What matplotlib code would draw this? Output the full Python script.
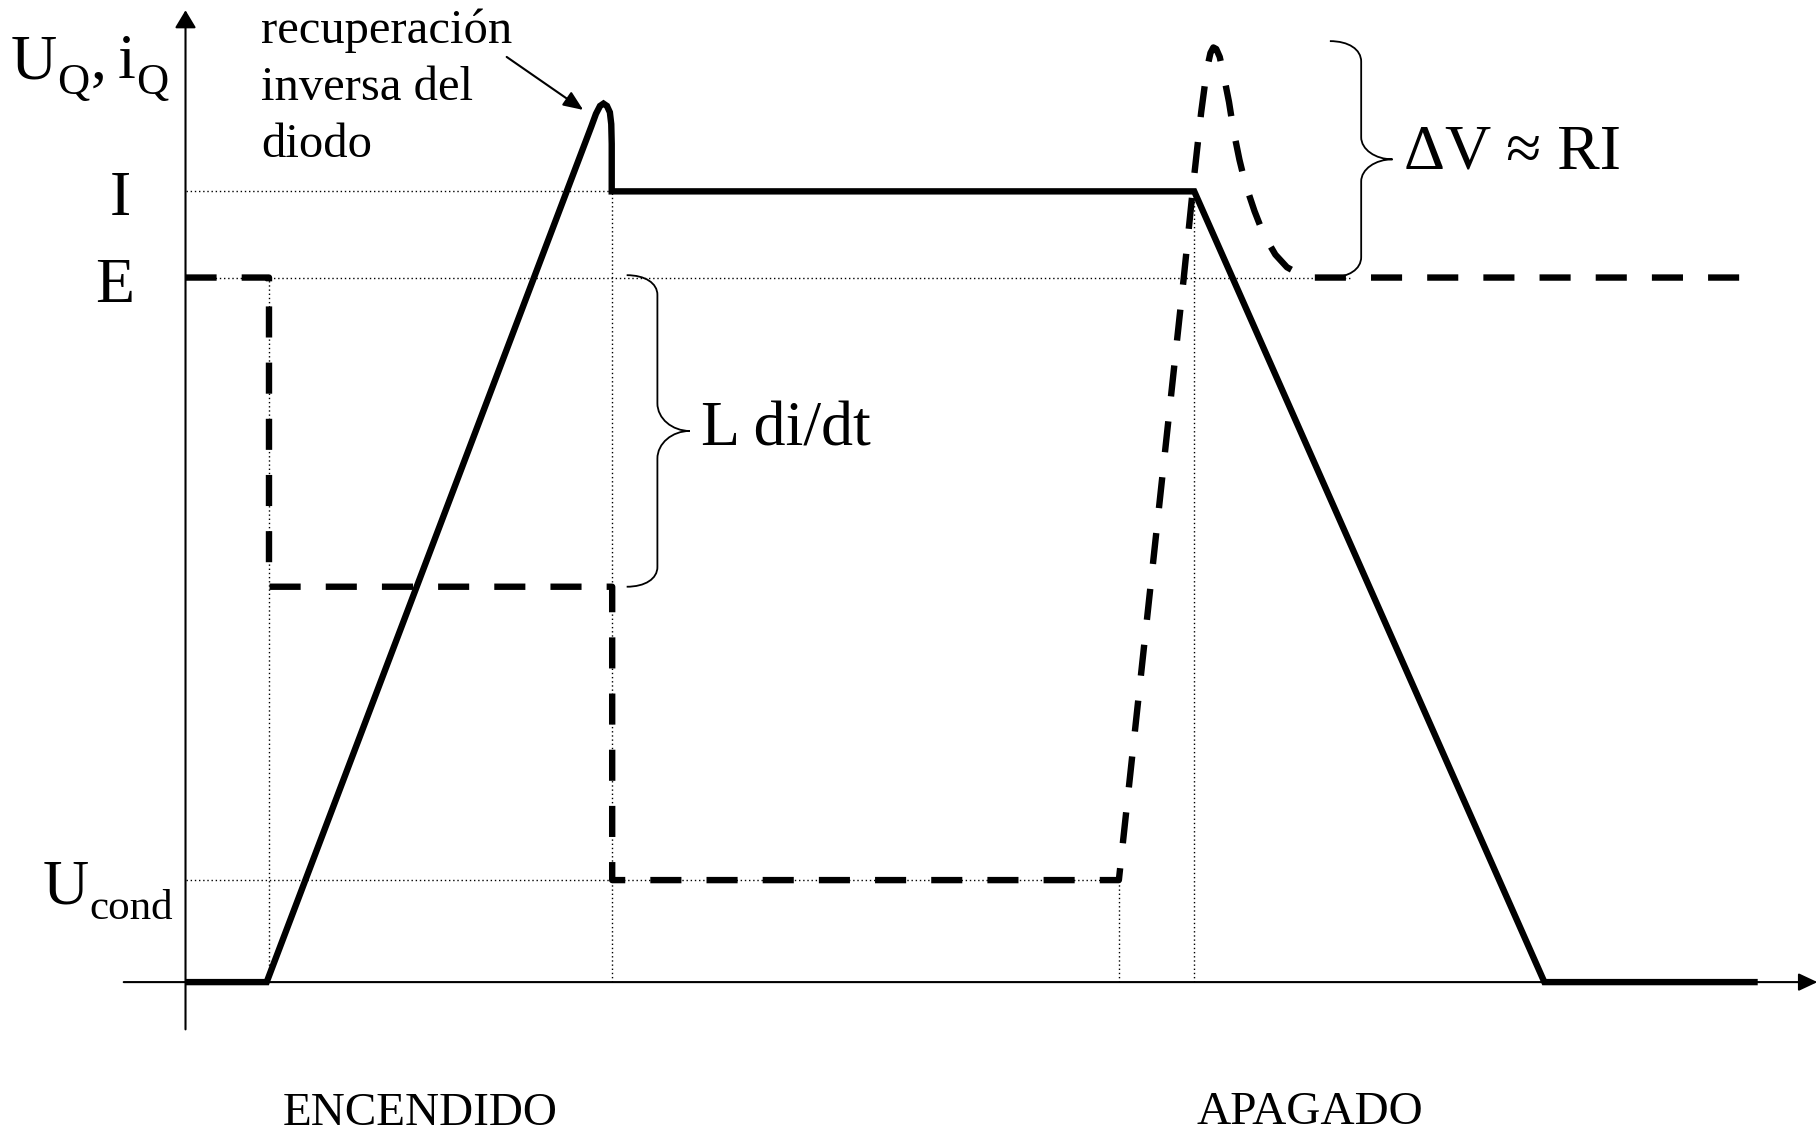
import matplotlib
matplotlib.use('Agg')
import numpy as np
import matplotlib.pyplot as plt
from matplotlib.path import Path
from matplotlib.patches import PathPatch

plt.rcParams['font.family'] = ['Liberation Serif', 'DejaVu Serif']

# ---------------- data ----------------
I_level = 10.0
E_level = 8.91
Ucond_level = 1.29
Ldidt_level = 5.0

current_t = [0.0, 0.70, 3.50, 3.54, 3.575, 3.605, 3.635, 3.66, 3.672, 3.676, 3.676, 8.70, 11.72, 13.56]
current_v = [0.0, 0.0, 10.82, 10.98, 11.08, 11.11, 11.08, 11.0, 10.85, 10.6, 10.0, 10.0, 0.0, 0.0]

voltage_t = [0.0, 0.72, 0.72, 3.68, 3.68, 8.05, 8.61, 8.70, 8.76, 8.81, 8.84, 8.865,
             8.89, 8.92, 8.95, 9.00, 9.04, 9.09, 9.14, 9.22, 9.30, 9.40, 9.50, 9.60, 9.70, 13.40]
voltage_v = [8.91, 8.91, 5.0, 5.0, 1.29, 1.29, 8.91, 10.2, 11.0, 11.55, 11.75, 11.82,
             11.8, 11.7, 11.5, 11.13, 10.76, 10.4, 10.1, 9.75, 9.45, 9.2, 9.04, 8.96, 8.91, 8.91]

# dotted guide lines: (level, start, end)
hguides = [(I_level, 0.0, 8.70), (E_level, 0.0, 10.05), (Ucond_level, 0.0, 8.05)]
vguides = [(0.72, 0.0, E_level), (3.676, 0.0, I_level), (8.05, 0.0, Ucond_level), (8.70, 0.0, I_level)]

level_labels = ['I', 'E']
level_label_t = [-0.56, -0.61]
level_label_v = [9.70, 8.60]

phase_labels = ['ENCENDIDO', 'APAGADO']
phase_label_t = [2.02, 9.70]
phase_label_v = [-1.81, -1.795]

diode_lines = ['recuperación', 'inversa del', 'diodo']
diode_line_v = [11.87, 11.15, 10.44]

# ---------------- figure ----------------
DPI = 100
fig = plt.figure(figsize=(18.18, 11.34), dpi=DPI)
ax = fig.add_axes([0, 0, 1, 1])
ax.set_xlim(-1.60, 14.08)
ax.set_ylim(-1.921, 12.42)
ax.axis('off')

# axes with arrows
ax.annotate('', xy=(0, 12.29), xytext=(0, -0.598),
            arrowprops=dict(arrowstyle='-|>,head_length=0.6,head_width=0.36', lw=1.5,
                            color='black', shrinkA=0, shrinkB=0, mutation_scale=18))
ax.annotate('', xy=(14.075, 0), xytext=(-0.533, 0),
            arrowprops=dict(arrowstyle='-|>,head_length=0.64,head_width=0.3', lw=1.5,
                            color='black', shrinkA=0, shrinkB=0, mutation_scale=18))

# dotted guides
for lv, a, b in hguides:
    ax.plot([a, b], [lv, lv], color='black', lw=1.0, linestyle=(0, (1, 2)), zorder=1)
for tv, a, b in vguides:
    ax.plot([tv, tv], [a, b], color='black', lw=1.0, linestyle=(0, (1, 2)), zorder=1)

# current (solid)
LW = 4.6
ax.plot(current_t, current_v, color='black', lw=LW, solid_joinstyle='miter',
        solid_capstyle='butt', zorder=3)

# voltage (dashed) - adjust dash period so the line starts and ends on a dash
px = ax.transData.transform(np.column_stack([voltage_t, voltage_v]))
L = np.sum(np.hypot(np.diff(px[:, 0]), np.diff(px[:, 1]))) * 72.0 / DPI
dash, gap = 22.3, 18.0
k = round((L - dash) / (dash + gap))
s = L / (k * (dash + gap) + dash)
ax.plot(voltage_t, voltage_v, color='black', lw=LW,
        linestyle=(0, (dash * s / LW, gap * s / LW)),
        dash_capstyle='butt', solid_joinstyle='miter', zorder=3)


def brace(x0, x1, x2, yt, yb, c1, c2, lw=1.3):
    ym = (yt + yb) / 2
    verts = [
        (x0, yt),
        (x0 + 0.6 * (x1 - x0), yt), (x1, yt - 0.4 * c1), (x1, yt - c1),
        (x1, ym + c2),
        (x1, ym + 0.45 * c2), (x1 + 0.45 * (x2 - x1), ym), (x2, ym),
        (x1 + 0.45 * (x2 - x1), ym), (x1, ym - 0.45 * c2), (x1, ym - c2),
        (x1, yb + c1),
        (x1, yb + 0.4 * c1), (x0 + 0.6 * (x1 - x0), yb), (x0, yb),
    ]
    codes = ([Path.MOVETO] + [Path.CURVE4] * 3 + [Path.LINETO] + [Path.CURVE4] * 6
             + [Path.LINETO] + [Path.CURVE4] * 3)
    ax.add_patch(PathPatch(Path(verts, codes), fill=False, lw=lw, edgecolor='black', zorder=2))


brace(3.805, 4.07, 4.35, 8.94, Ldidt_level, 0.25, 0.35)
brace(9.87, 10.14, 10.41, 11.90, E_level, 0.26, 0.28)

# ---------------- texts ----------------
BIG, SUB = 46, 32
SUB_DROP = 0.20

# U_Q, i_Q
base = 11.43
u1 = ax.text(-1.51, base, 'U', fontsize=BIG, ha='left', va='baseline')
q1 = ax.annotate('Q', xy=(1, base - SUB_DROP), xycoords=(u1, 'data'), xytext=(0.5, 0),
                 textcoords='offset points', fontsize=SUB, ha='left', va='baseline')
cm = ax.annotate(',', xy=(1, base), xycoords=(q1, 'data'), xytext=(1.0, 0),
                 textcoords='offset points', fontsize=BIG, ha='left', va='baseline')
i1 = ax.annotate('i', xy=(1, base), xycoords=(cm, 'data'), xytext=(7.5, 0),
                 textcoords='offset points', fontsize=BIG, ha='left', va='baseline')
ax.annotate('Q', xy=(1, base - SUB_DROP), xycoords=(i1, 'data'), xytext=(0.5, 0),
            textcoords='offset points', fontsize=SUB, ha='left', va='baseline')

# U_cond
u2 = ax.text(-1.23, 1.0, 'U', fontsize=BIG, ha='left', va='baseline')
ax.annotate('cond', xy=(1, 1.0 - SUB_DROP), xycoords=(u2, 'data'), xytext=(0.3, 0),
            textcoords='offset points', fontsize=31, ha='left', va='baseline')

for s_, tx, vy in zip(level_labels, level_label_t, level_label_v):
    ax.text(tx, vy, s_, fontsize=BIG, ha='center', va='baseline')
for s_, vy in zip(diode_lines, diode_line_v):
    ax.text(0.65, vy, s_, fontsize=35, ha='left', va='baseline')
ax.text(4.45, 6.79, 'L di/dt', fontsize=BIG, ha='left', va='baseline')
ax.text(10.51, 10.29, 'ΔV ≈ RI', fontsize=BIG, ha='left', va='baseline')
for s_, tx, vy in zip(phase_labels, phase_label_t, phase_label_v):
    ax.text(tx, vy, s_, fontsize=34, ha='center', va='baseline')

ax.annotate('', xy=(3.43, 11.03), xytext=(2.77, 11.70),
            arrowprops=dict(arrowstyle='-|>,head_length=0.6,head_width=0.25', lw=1.5,
                            color='black', shrinkA=0, shrinkB=0, mutation_scale=20))

fig.savefig('out.png', dpi=DPI)
